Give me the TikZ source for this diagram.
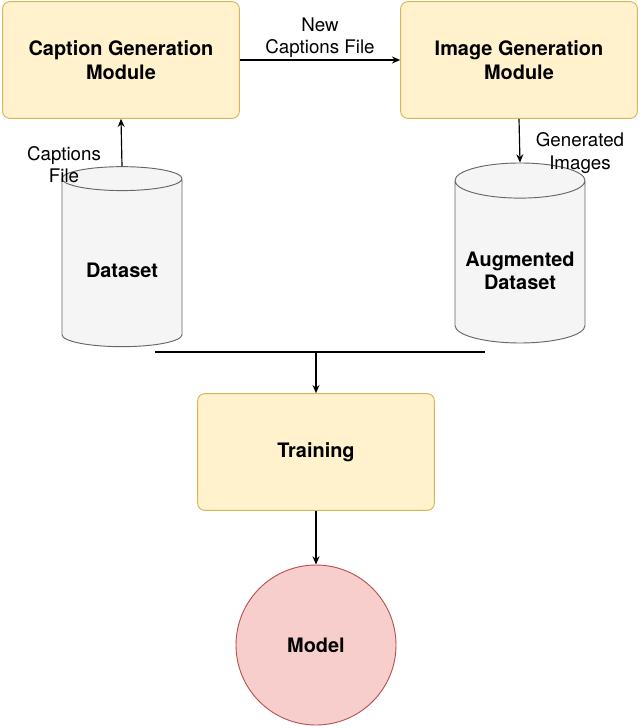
\documentclass[tikz,border=0pt]{standalone}
\usepackage{fontspec}
\setmainfont{TeX Gyre Heros}
\usepackage{tikz}
\usetikzlibrary{shapes.geometric}
\usetikzlibrary{positioning}
\usetikzlibrary{arrows.meta}
\definecolor{boxfill}{HTML}{FFF2CC}
\definecolor{boxline}{HTML}{D6B656}
\definecolor{dbfill}{HTML}{F5F5F5}
\definecolor{dbline}{HTML}{666666}
\definecolor{modfill}{HTML}{F8CECC}
\definecolor{modline}{HTML}{B85450}
\begin{document}
\begin{tikzpicture}[x=0.03cm,y=-0.03cm,
module/.style={rectangle,rounded corners=6pt,draw=boxline,fill=boxfill,line width=0.8pt,
               minimum width=7.1cm,minimum height=3.5cm,align=center,
               font=\fontsize{17}{20}\selectfont\bfseries},
db/.style={cylinder,shape border rotate=90,aspect=0.3,draw=dbline,fill=dbfill,line width=0.8pt,
           minimum width=3.6cm,minimum height=5.4cm,align=center,
           font=\fontsize{17}{20}\selectfont\bfseries},
lbl/.style={align=center,font=\fontsize{16}{19}\selectfont},
arr/.style={-{Stealth[length=7pt,width=6pt]},line width=1pt}]
\useasboundingbox (0,0) rectangle (640,728);
\node[module] (cap) at (121,60) {Caption Generation\\Module};
\node[module] (img) at (519,60) {Image Generation\\Module};
\node[db] (data) at (122,265) {\\[2pt]Dataset};
\node[db,minimum width=3.9cm] (aug) at (520,265) {\\[2pt]Augmented\\Dataset};
\node[module] (train) at (316,452) {Training};
\node[circle,draw=modline,fill=modfill,line width=0.8pt,minimum size=4.8cm,
      font=\fontsize{17}{20}\selectfont\bfseries] (model) at (316,645) {Model};
%==================
\draw[arr] (data.top) -- (cap.south);
\node[lbl] at (64,165) {Captions\\File};
\draw[arr] (cap.east) -- node[lbl,above=-2pt] {New\\Captions File} (img.west);
\draw[arr] (img.south) -- (aug.top);
\node[lbl] at (580,153) {Generated\\Images};
% ===================
\coordinate (join) at (316,352);
\draw[line width=1pt] (155,352) -- (join) -- (485,352);
\draw[arr,line width=2pt] (join) -- (train.north);
\draw[arr] (train.south) -- (model.north);
\end{tikzpicture}
\end{document}
